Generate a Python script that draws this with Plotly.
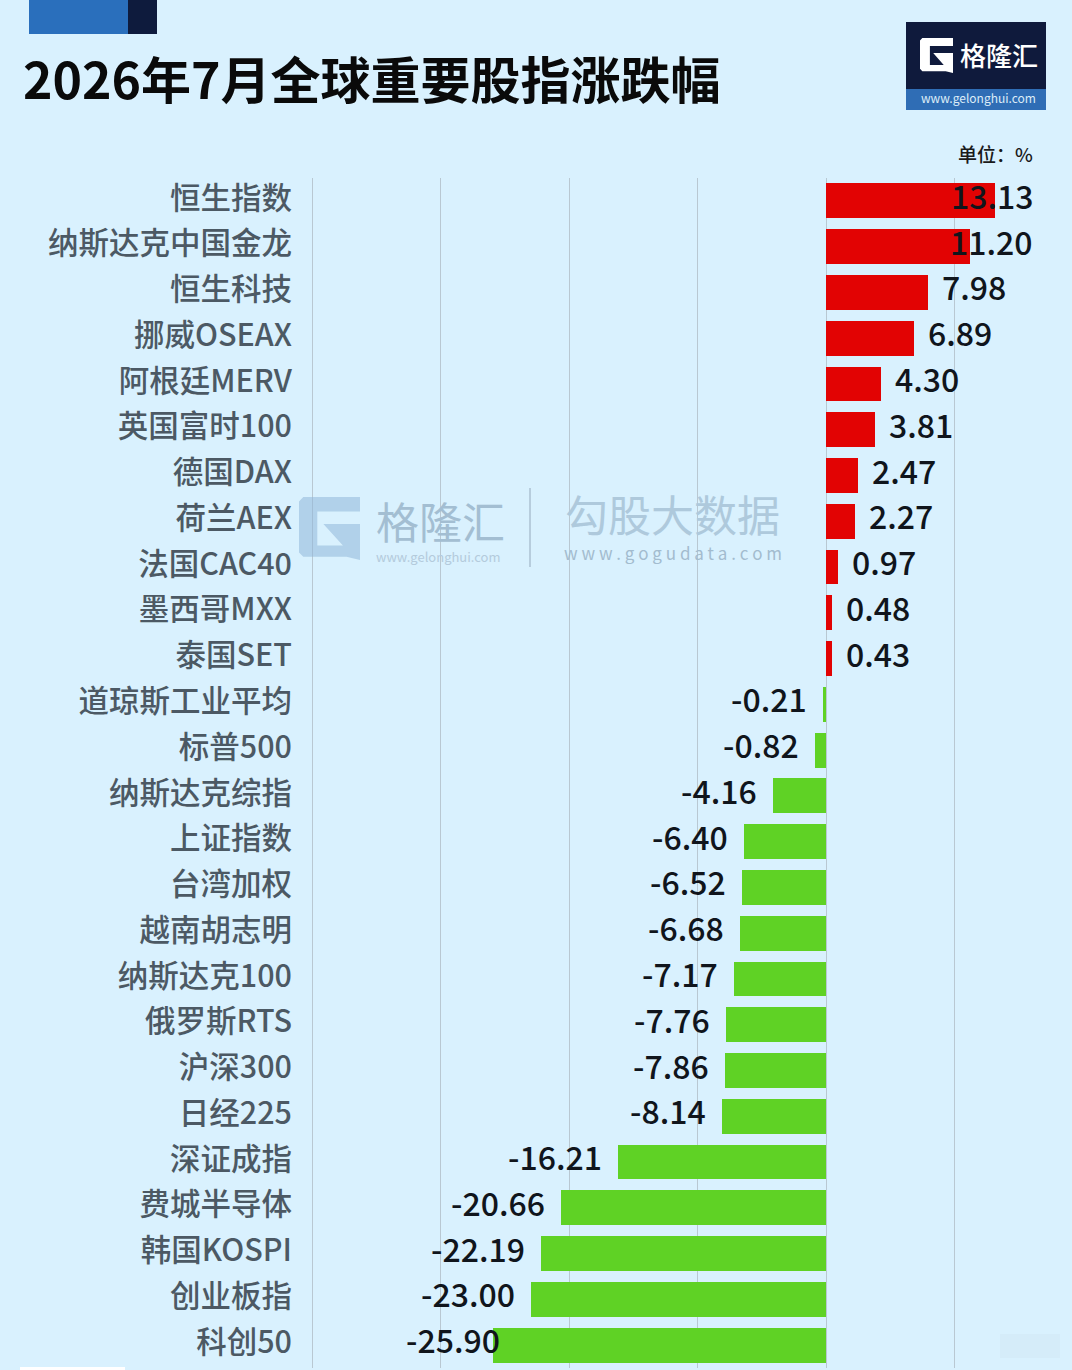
import plotly.graph_objects as go

W = 1072
H = 1370
FONT = "Noto Sans CJK SC"
FONT_MED = "Noto Sans CJK SC Medium, Noto Sans CJK SC"

names = ["恒生指数", "纳斯达克中国金龙", "恒生科技", "挪威OSEAX", "阿根廷MERV", "英国富时100",
         "德国DAX", "荷兰AEX", "法国CAC40", "墨西哥MXX", "泰国SET", "道琼斯工业平均",
         "标普500", "纳斯达克综指", "上证指数", "台湾加权", "越南胡志明", "纳斯达克100",
         "俄罗斯RTS", "沪深300", "日经225", "深证成指", "费城半导体", "韩国KOSPI",
         "创业板指", "科创50"]
values = [13.13, 11.20, 7.98, 6.89, 4.30, 3.81, 2.47, 2.27, 0.97, 0.48, 0.43, -0.21,
          -0.82, -4.16, -6.40, -6.52, -6.68, -7.17, -7.76, -7.86, -8.14, -16.21,
          -20.66, -22.19, -23.00, -25.90]
grid_ticks = [-40, -30, -20, -10, 0, 10]

RED = "#e20303"
GREEN = "#5fd225"
BG = "#d9f1fe"

# the first two and the last label sit on top of their bars
label_shift = {"恒生指数": -46, "纳斯达克中国金龙": -22, "科创50": 9}


def px(x):
    return x / W


def py(y):
    return 1 - y / H


def rect(x0, y0, x1, y1, color, opacity=1):
    return dict(type="rect", xref="paper", yref="paper", x0=px(x0), x1=px(x1),
                y0=py(y1), y1=py(y0), fillcolor=color, opacity=opacity,
                line_width=0, layer="above")


def g_mark(x0, y0, w, h, color, opacity=1):
    pts = [(0.07, 0), (1, 0), (1, 0.23), (0.3, 0.23), (0.3, 0.77), (0.72, 0.77),
           (0.4, 0.43), (1, 0.43), (1, 1), (0.78, 0.95), (0.07, 0.95), (0, 0.88), (0, 0.07)]
    path = "M" + " L".join(f"{px(x0 + a * w):.5f},{py(y0 + b * h):.5f}" for a, b in pts) + " Z"
    return dict(type="path", xref="paper", yref="paper", path=path, fillcolor=color,
                opacity=opacity, line_width=0, layer="above")


def text(x, y, s, size, color, anchor="left", bold=False, family=FONT):
    return dict(xref="paper", yref="paper", x=px(x), y=py(y), text=f"<b>{s}</b>" if bold else s,
                showarrow=False, xanchor=anchor, yanchor="middle",
                font=dict(family=family, size=size, color=color))


fig = go.Figure(go.Bar(
    x=values, y=names, orientation="h", width=0.76,
    marker=dict(color=[RED if v > 0 else GREEN for v in values], line_width=0),
    hoverinfo="skip"))

# value labels follow the bar ends
annotations = []
for n, v in zip(names, values):
    shift = label_shift.get(n, 12 if v > 0 else -14)
    annotations.append(dict(x=v, y=n, xref="x", yref="y", text=f"{v:.2f}", showarrow=False,
                            xanchor="left" if v > 0 else "right",
                            yanchor="middle", xshift=shift, yshift=6,
                            font=dict(family=FONT_MED, size=32, color="#10151c")))

annotations += [
    text(21, 77, "2026年7月全球重要股指涨跌幅", 50, "#0a0a0a", bold=True),
    text(1035, 154, "单位：%", 19, "#1a1a1a", anchor="right", family=FONT_MED),
    text(958, 54, "格隆汇", 26, "#ffffff", family=FONT_MED),
    text(978, 98, "www.gelonghui.com", 12, "#dcecf8", anchor="center"),
    text(374, 520, "格隆汇", 43, "#a3bed2"),
    text(438, 557, "www.gelonghui.com", 13, "#b4cbdc", anchor="center"),
    text(672, 513, "勾股大数据", 43, "#aec9dc", anchor="center"),
    text(673, 552, "w w w . g o g u d a t a . c o m", 17, "#a3bccf", anchor="center"),
]

shapes = [
    rect(29, 0, 128, 34, "#2a6fbc"),
    rect(128, 0, 157, 34, "#0e1b3d"),
    rect(906, 22, 1046, 89, "#0f1a3c"),
    rect(906, 89, 1046, 110, "#2f6db5"),
    g_mark(920, 38, 33, 35, "#ffffff"),
    g_mark(299, 497, 61, 63, "#8fb6d8", 0.55),
    rect(529, 488, 531, 567, "#b7cddd"),
    rect(20, 1367, 125, 1370, "#ffffff"),
    rect(1000, 1334, 1060, 1358, "#c4d2db", 0.15),
]

fig.update_layout(
    width=W, height=H, paper_bgcolor=BG, plot_bgcolor=BG, showlegend=False,
    margin=dict(l=0, r=0, t=0, b=0), bargap=0,
    annotations=annotations, shapes=shapes,
    # domain starts left of the -40 line, a grid line right on the edge gets dropped
    xaxis=dict(domain=[300 / W, 1], range=[-40.97, 19.16], tickvals=grid_ticks,
               showticklabels=False, showgrid=True, gridcolor="#b9c8d2", gridwidth=1,
               zeroline=False, ticks="", anchor="y", automargin=False),
    yaxis=dict(domain=[py(1368), py(178)], range=[25.5, -0.5], showgrid=False, zeroline=False,
               tickfont=dict(family=FONT_MED, size=30.5, color="#4c5964"),
               ticks="", ticklabelstandoff=7, ticklabelshift=3, showline=False,
               automargin=False),
)

# no page margin, the picture fills the window
fig.write_html("out.html", config=dict(displayModeBar=False),
               post_script="document.body.style.margin='0';")
